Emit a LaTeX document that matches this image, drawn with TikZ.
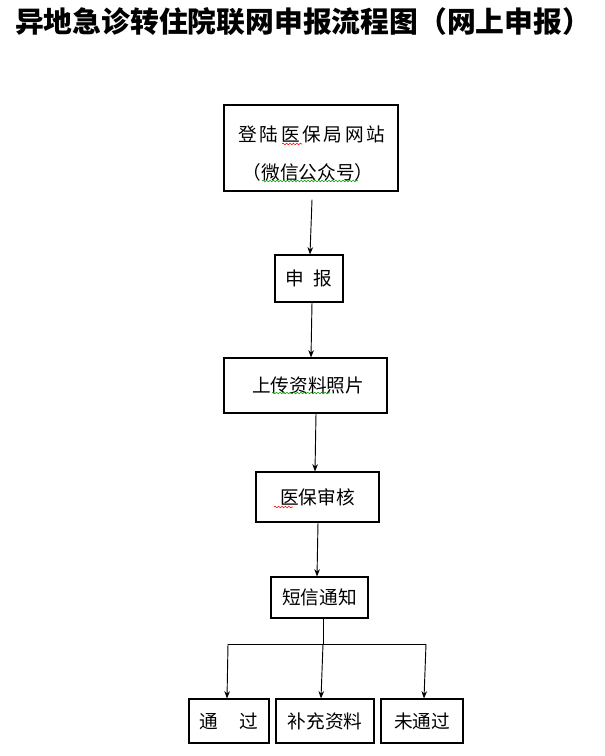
\documentclass[tikz,border=0pt]{standalone}
\usepackage{fontspec}
\newfontfamily\cjk{Noto Sans CJK SC}
\usetikzlibrary{arrows.meta,calc,decorations.pathmorphing}
\begin{document}
\begin{tikzpicture}[x=0.75pt,y=-0.75pt,
  box/.style={draw, line width=0.8pt, inner sep=0pt, font=\cjk\fontsize{14}{16}\selectfont},
  txt/.style={inner sep=0pt, font=\cjk\fontsize{14}{16}\selectfont},
  conn/.style={line width=0.7pt},
  arr/.style={conn, -{Stealth[length=5.5pt,width=4.2pt]}},
  wavy/.style={decorate, decoration={snake, amplitude=0.6pt, segment length=2.6pt}, line width=0.4pt}]
\fill[white] (0,0) rectangle (605,756);
\useasboundingbox (0,0) rectangle (605,756);

\node[inner sep=0pt] (title) at (303,22) {\cjk\bfseries\fontsize{21.6}{24}\selectfont 异地急诊转住院联网申报流程图（网上申报）};

\node[box, minimum width=130.5pt, minimum height=64.5pt] (b1) at (311,148) {};
\node[txt] (t1a) at (312,134) {登\hspace{2pt}陆\hspace{2pt}医\hspace{2pt}保\hspace{2pt}局\hspace{2pt}网\hspace{2pt}站};
\node[txt] (t1b) at (308,172) {（微信公众号）};

\node[box, minimum width=51pt, minimum height=35.25pt] (b2) at (309,278.5) {申\hspace{7pt}报};
\node[box, minimum width=122.25pt, minimum height=41.25pt] (b3) at (305.5,385.5) {\hspace{4pt}上传资料照片};
\node[box, minimum width=92.25pt, minimum height=37.5pt] (b4) at (317.5,497) {医保审核\hspace{9pt}};
\node[box, minimum width=72.75pt, minimum height=30.75pt] (b5) at (319.5,597.5) {短信通知};
\node[box, minimum width=60pt, minimum height=33pt] (b6) at (229,721) {通\hspace{16pt}过};
\node[box, minimum width=73.5pt, minimum height=33pt] (b7) at (325,721) {补充资料};
\node[box, minimum width=61.5pt, minimum height=33pt] (b8) at (422,721) {未通过};

\draw[arr] ($(b1.south)+(1,8)$) -- ($(b2.north)+(1,0)$);
\draw[arr] ($(b2.south)+(3,0)$) -- ($(b3.north)+(5.5,0)$);
\draw[arr] ($(b3.south)+(10.5,0)$) -- ($(b4.north)+(-2.5,0)$);
\draw[arr] ($(b4.south)+(0.5,0)$) -- ($(b5.north)+(-2.5,0)$);

\coordinate (fm) at (323,644);
\coordinate (fl) at (228,644);
\coordinate (fr) at (426,644);
\draw[conn] ($(b5.south)+(3.5,0)$) -- (fm);
\draw[conn] (fl) -- (fr);
\draw[arr] (fl) -- ($(b6.north)+(-2,0)$);
\draw[arr] (fm) -- ($(b7.north)+(-4,0)$);
\draw[arr] (fr) -- ($(b8.north)+(2,0)$);

\draw[wavy, red] (282,144) -- (302,144);
\draw[wavy, green!60!black] (262,181) -- (358,181);
\draw[wavy, green!60!black] (272,393) -- (330,393);
\draw[wavy, red] (274,507) -- (293,507);
\end{tikzpicture}
\end{document}
